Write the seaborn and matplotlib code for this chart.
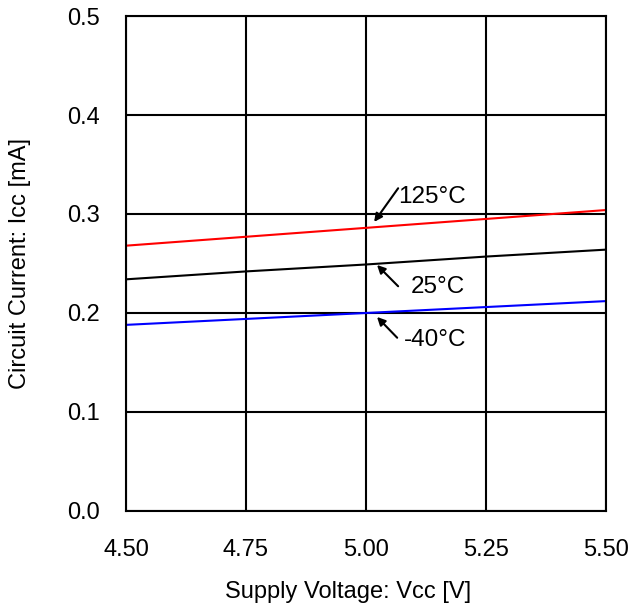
import pandas as pd
import matplotlib
matplotlib.use("Agg")
import matplotlib.pyplot as plt
import seaborn as sns

sns.set_theme(style="white")
plt.rcParams['font.family'] = ['Liberation Sans', 'DejaVu Sans']
plt.rcParams['text.color'] = 'black'

# 读图得到的数据
vcc = [4.50, 4.75, 5.00, 5.25, 5.50]
icc_125 = [0.268, 0.277, 0.286, 0.295, 0.304]
icc_25 = [0.234, 0.242, 0.249, 0.257, 0.264]
icc_m40 = [0.188, 0.194, 0.200, 0.206, 0.212]
temps = ['125°C', '25°C', '-40°C']
colors = ['#ff0000', '#000000', '#0000ff']
xticks = [4.50, 4.75, 5.00, 5.25, 5.50]
yticks = [0.0, 0.1, 0.2, 0.3, 0.4, 0.5]

df = pd.DataFrame({
    'vcc': vcc * 3,
    'icc': icc_125 + icc_25 + icc_m40,
    'temp': [t for t in temps for _ in vcc],
})

fig = plt.figure(figsize=(6.29, 6.11), dpi=100)
ax = fig.add_axes([0.2003, 0.1637, 0.7631, 0.8101])

sns.lineplot(data=df, x='vcc', y='icc', hue='temp', palette=dict(zip(temps, colors)),
             linewidth=1.5, legend=False, ax=ax, zorder=3)

ax.set_xlim(4.5, 5.5)
ax.set_ylim(0.0, 0.5)
ax.set_xticks(xticks)
ax.set_xticklabels([f"{v:.2f}" for v in xticks])
ax.set_yticks(yticks)
ax.set_yticklabels([f"{v:.1f}" for v in yticks])
ax.grid(True, color='black', linewidth=1.5)
for s in ax.spines.values():
    s.set_color('black')
    s.set_linewidth(1.5)
    s.set_zorder(4)
ax.tick_params(axis='both', length=0, labelsize=17, colors='black')
ax.tick_params(axis='x', pad=20)
ax.tick_params(axis='y', pad=19)

ax.set_xlabel('Supply Voltage: Vᴄᴄ [V]', fontsize=17, color='black', labelpad=14)
ax.xaxis.set_label_coords(0.4625, -0.142)
ax.set_ylabel('Circuit Current: Iᴄᴄ [mA]', fontsize=17, color='black', labelpad=26)

# 标注
arrow = dict(arrowstyle='-|>', color='black', lw=1.5, mutation_scale=12, shrinkA=0, shrinkB=0)
ax.annotate('', xy=(5.017, 0.292), xytext=(5.067, 0.326), arrowprops=arrow)
ax.text(5.067, 0.317, '125°C', fontsize=17.5, ha='left', va='center', color='black')
ax.annotate('', xy=(5.023, 0.2485), xytext=(5.067, 0.227), arrowprops=arrow)
ax.text(5.094, 0.226, '25°C', fontsize=17.5, ha='left', va='center', color='black')
ax.annotate('', xy=(5.023, 0.196), xytext=(5.065, 0.175), arrowprops=arrow)
ax.text(5.079, 0.173, '-40°C', fontsize=17.5, ha='left', va='center', color='black')

fig.savefig('out.png', dpi=100)
